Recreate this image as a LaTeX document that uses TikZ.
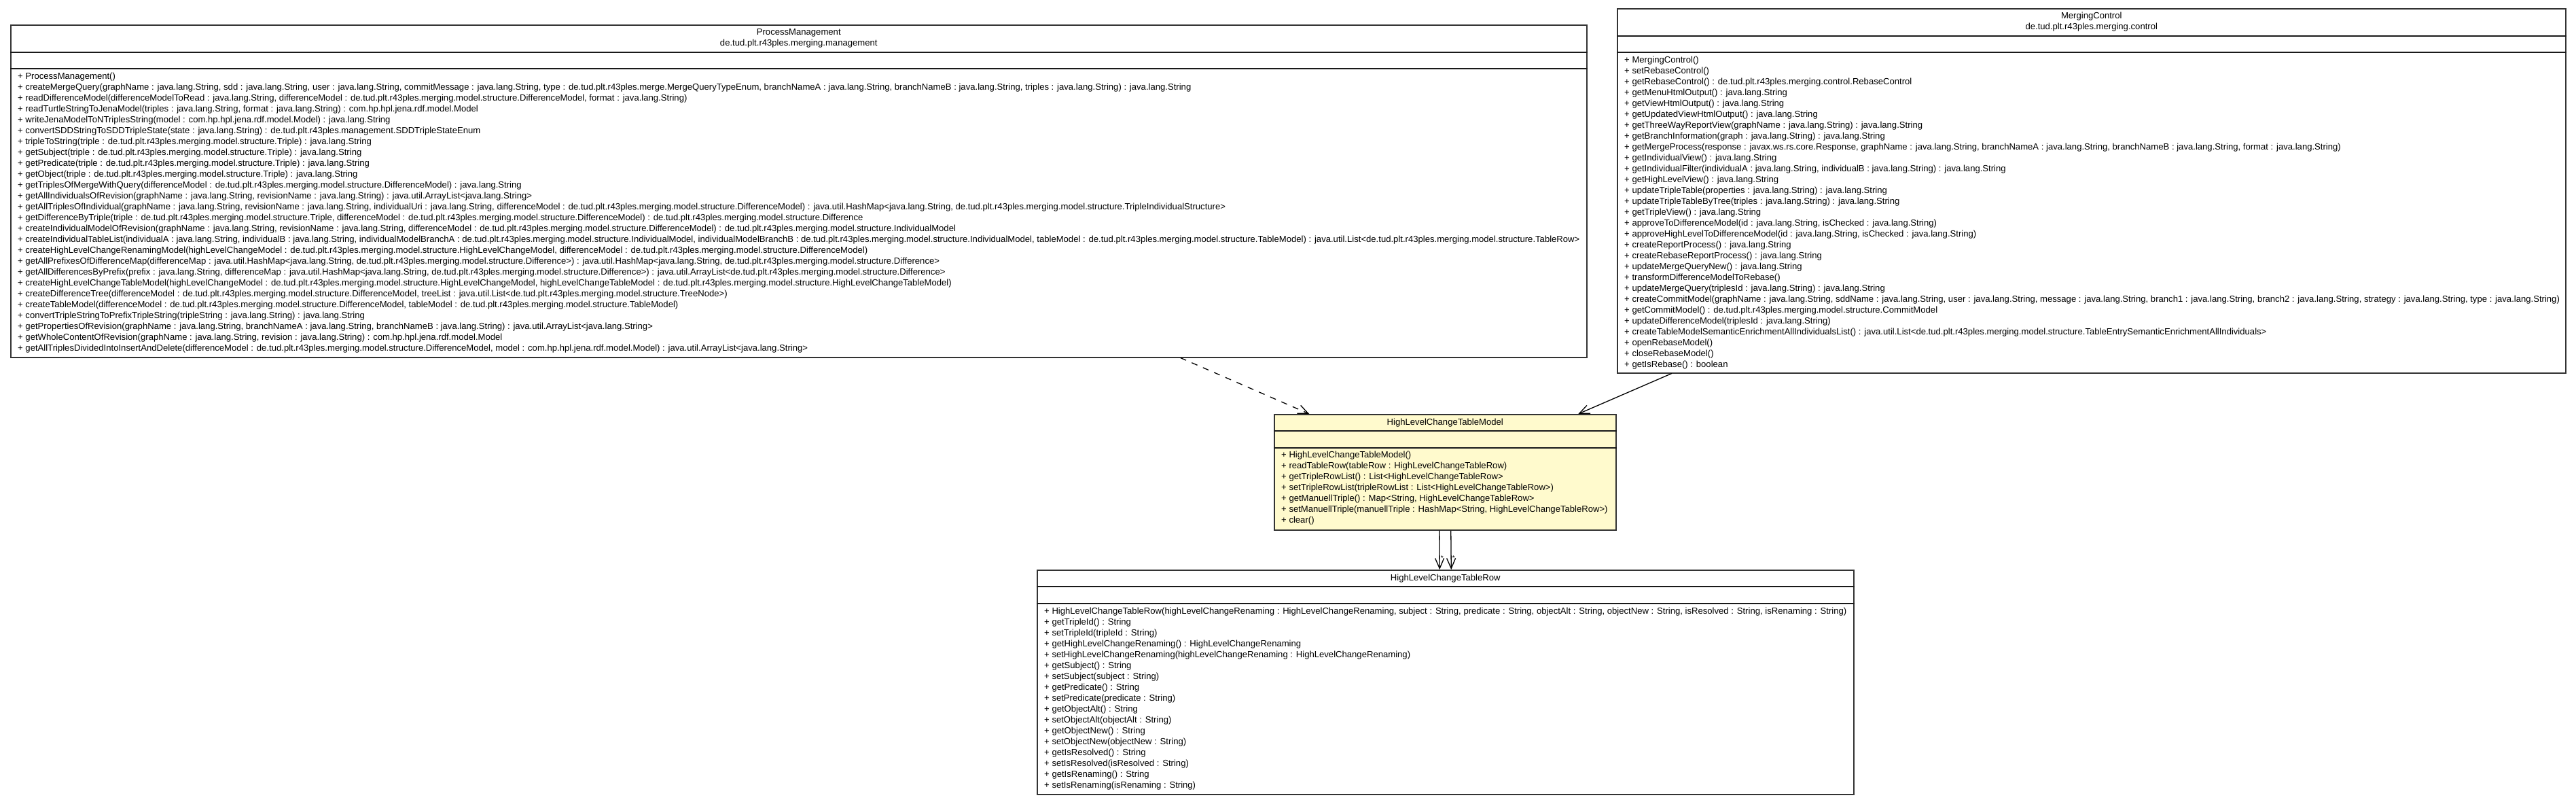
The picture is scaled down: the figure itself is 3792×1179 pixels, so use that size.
\documentclass[tikz,border=0pt]{standalone}
\usepackage{fontspec}
\setmainfont{Liberation Sans}
\usetikzlibrary{arrows.meta,calc}
\definecolor{umlyellow}{HTML}{FFFACD}
\def\umlfont{\fontsize{13.1}{16}\selectfont}

\begin{document}
\begin{tikzpicture}[x=1pt, y=-1pt, font=\umlfont,
		umlclass/.style={draw=black!80, line width=1.5pt, fill=white, anchor=north west, inner sep=0pt},
		focusclass/.style={umlclass, fill=umlyellow},
		compline/.style={draw=black!90, line width=1.5pt},
		classname/.style={anchor=base, inner sep=0pt},
		member/.style={anchor=base west, inner sep=0pt},
		depend/.style={line width=1.3pt, dash pattern=on 9pt off 9pt, -{Straight Barb[length=15pt, width=13pt]}},
		navassoc/.style={line width=1.3pt, -{Straight Barb[length=15pt, width=13pt]}},
		mult/.style={font=\fontsize{10}{10}\selectfont, inner sep=0pt}]
		\useasboundingbox (0,0) rectangle (3792,1179);
		
		%%%%% ProcessManagement %%%%%
		\node[umlclass, minimum width=2320pt, minimum height=489pt] (pm) at (15,36) {};
		\node[classname] (pm-name) at ($(pm.north)+(0,15.5)$) {ProcessManagement};
		\node[classname] (pm-pkg) at ($(pm.north)+(0,31.5)$) {de.tud.plt.r43ples.merging.management};
		\draw[compline] ($(pm.north west)+(0,41)$) -- ($(pm.north east)+(0,41)$);
		\draw[compline] ($(pm.north west)+(0,65)$) -- ($(pm.north east)+(0,65)$);
		\foreach \m [count=\i from 0] in {
			{+ ProcessManagement()},
			{+ createMergeQuery(graphName : java.lang.String, sdd : java.lang.String, user : java.lang.String, commitMessage : java.lang.String, type : de.tud.plt.r43ples.merge.MergeQueryTypeEnum, branchNameA : java.lang.String, branchNameB : java.lang.String, triples : java.lang.String) : java.lang.String},
			{+ readDifferenceModel(differenceModelToRead : java.lang.String, differenceModel : de.tud.plt.r43ples.merging.model.structure.DifferenceModel, format : java.lang.String)},
			{+ readTurtleStringToJenaModel(triples : java.lang.String, format : java.lang.String) : com.hp.hpl.jena.rdf.model.Model},
			{+ writeJenaModelToNTriplesString(model : com.hp.hpl.jena.rdf.model.Model) : java.lang.String},
			{+ convertSDDStringToSDDTripleState(state : java.lang.String) : de.tud.plt.r43ples.management.SDDTripleStateEnum},
			{+ tripleToString(triple : de.tud.plt.r43ples.merging.model.structure.Triple) : java.lang.String},
			{+ getSubject(triple : de.tud.plt.r43ples.merging.model.structure.Triple) : java.lang.String},
			{+ getPredicate(triple : de.tud.plt.r43ples.merging.model.structure.Triple) : java.lang.String},
			{+ getObject(triple : de.tud.plt.r43ples.merging.model.structure.Triple) : java.lang.String},
			{+ getTriplesOfMergeWithQuery(differenceModel : de.tud.plt.r43ples.merging.model.structure.DifferenceModel) : java.lang.String},
			{+ getAllIndividualsOfRevision(graphName : java.lang.String, revisionName : java.lang.String) : java.util.ArrayList<java.lang.String>},
			{+ getAllTriplesOfIndividual(graphName : java.lang.String, revisionName : java.lang.String, individualUri : java.lang.String, differenceModel : de.tud.plt.r43ples.merging.model.structure.DifferenceModel) : java.util.HashMap<java.lang.String, de.tud.plt.r43ples.merging.model.structure.TripleIndividualStructure>},
			{+ getDifferenceByTriple(triple : de.tud.plt.r43ples.merging.model.structure.Triple, differenceModel : de.tud.plt.r43ples.merging.model.structure.DifferenceModel) : de.tud.plt.r43ples.merging.model.structure.Difference},
			{+ createIndividualModelOfRevision(graphName : java.lang.String, revisionName : java.lang.String, differenceModel : de.tud.plt.r43ples.merging.model.structure.DifferenceModel) : de.tud.plt.r43ples.merging.model.structure.IndividualModel},
			{+ createIndividualTableList(individualA : java.lang.String, individualB : java.lang.String, individualModelBranchA : de.tud.plt.r43ples.merging.model.structure.IndividualModel, individualModelBranchB : de.tud.plt.r43ples.merging.model.structure.IndividualModel, tableModel : de.tud.plt.r43ples.merging.model.structure.TableModel) : java.util.List<de.tud.plt.r43ples.merging.model.structure.TableRow>},
			{+ createHighLevelChangeRenamingModel(highLevelChangeModel : de.tud.plt.r43ples.merging.model.structure.HighLevelChangeModel, differenceModel : de.tud.plt.r43ples.merging.model.structure.DifferenceModel)},
			{+ getAllPrefixesOfDifferenceMap(differenceMap : java.util.HashMap<java.lang.String, de.tud.plt.r43ples.merging.model.structure.Difference>) : java.util.HashMap<java.lang.String, de.tud.plt.r43ples.merging.model.structure.Difference>},
			{+ getAllDifferencesByPrefix(prefix : java.lang.String, differenceMap : java.util.HashMap<java.lang.String, de.tud.plt.r43ples.merging.model.structure.Difference>) : java.util.ArrayList<de.tud.plt.r43ples.merging.model.structure.Difference>},
			{+ createHighLevelChangeTableModel(highLevelChangeModel : de.tud.plt.r43ples.merging.model.structure.HighLevelChangeModel, highLevelChangeTableModel : de.tud.plt.r43ples.merging.model.structure.HighLevelChangeTableModel)},
			{+ createDifferenceTree(differenceModel : de.tud.plt.r43ples.merging.model.structure.DifferenceModel, treeList : java.util.List<de.tud.plt.r43ples.merging.model.structure.TreeNode>)},
			{+ createTableModel(differenceModel : de.tud.plt.r43ples.merging.model.structure.DifferenceModel, tableModel : de.tud.plt.r43ples.merging.model.structure.TableModel)},
			{+ convertTripleStringToPrefixTripleString(tripleString : java.lang.String) : java.lang.String},
			{+ getPropertiesOfRevision(graphName : java.lang.String, branchNameA : java.lang.String, branchNameB : java.lang.String) : java.util.ArrayList<java.lang.String>},
			{+ getWholeContentOfRevision(graphName : java.lang.String, revision : java.lang.String) : com.hp.hpl.jena.rdf.model.Model},
			{+ getAllTriplesDividedIntoInsertAndDelete(differenceModel : de.tud.plt.r43ples.merging.model.structure.DifferenceModel, model : com.hp.hpl.jena.rdf.model.Model) : java.util.ArrayList<java.lang.String>}}
			\node[member] (pm-\i) at ($(pm.north west)+(11,80.5+16*\i)$) {\m};
		
		%%%%% MergingControl %%%%%
		\node[umlclass, minimum width=1396pt, minimum height=536pt] (mc) at (2380,12) {};
		\node[classname] (mc-name) at ($(mc.north)+(0,15.5)$) {MergingControl};
		\node[classname] (mc-pkg) at ($(mc.north)+(0,31.5)$) {de.tud.plt.r43ples.merging.control};
		\draw[compline] ($(mc.north west)+(0,41)$) -- ($(mc.north east)+(0,41)$);
		\draw[compline] ($(mc.north west)+(0,65)$) -- ($(mc.north east)+(0,65)$);
		\foreach \m [count=\i from 0] in {
			{+ MergingControl()},
			{+ setRebaseControl()},
			{+ getRebaseControl() : de.tud.plt.r43ples.merging.control.RebaseControl},
			{+ getMenuHtmlOutput() : java.lang.String},
			{+ getViewHtmlOutput() : java.lang.String},
			{+ getUpdatedViewHtmlOutput() : java.lang.String},
			{+ getThreeWayReportView(graphName : java.lang.String) : java.lang.String},
			{+ getBranchInformation(graph : java.lang.String) : java.lang.String},
			{+ getMergeProcess(response : javax.ws.rs.core.Response, graphName : java.lang.String, branchNameA : java.lang.String, branchNameB : java.lang.String, format : java.lang.String)},
			{+ getIndividualView() : java.lang.String},
			{+ getIndividualFilter(individualA : java.lang.String, individualB : java.lang.String) : java.lang.String},
			{+ getHighLevelView() : java.lang.String},
			{+ updateTripleTable(properties : java.lang.String) : java.lang.String},
			{+ updateTripleTableByTree(triples : java.lang.String) : java.lang.String},
			{+ getTripleView() : java.lang.String},
			{+ approveToDifferenceModel(id : java.lang.String, isChecked : java.lang.String)},
			{+ approveHighLevelToDifferenceModel(id : java.lang.String, isChecked : java.lang.String)},
			{+ createReportProcess() : java.lang.String},
			{+ createRebaseReportProcess() : java.lang.String},
			{+ updateMergeQueryNew() : java.lang.String},
			{+ transformDifferenceModelToRebase()},
			{+ updateMergeQuery(triplesId : java.lang.String) : java.lang.String},
			{+ createCommitModel(graphName : java.lang.String, sddName : java.lang.String, user : java.lang.String, message : java.lang.String, branch1 : java.lang.String, branch2 : java.lang.String, strategy : java.lang.String, type : java.lang.String)},
			{+ getCommitModel() : de.tud.plt.r43ples.merging.model.structure.CommitModel},
			{+ updateDifferenceModel(triplesId : java.lang.String)},
			{+ createTableModelSemanticEnrichmentAllIndividualsList() : java.util.List<de.tud.plt.r43ples.merging.model.structure.TableEntrySemanticEnrichmentAllIndividuals>},
			{+ openRebaseModel()},
			{+ closeRebaseModel()},
			{+ getIsRebase() : boolean}}
			\node[member] (mc-\i) at ($(mc.north west)+(11,80.5+16*\i)$) {\m};
		
		%%%%% HighLevelChangeTableModel %%%%%
		\node[focusclass, minimum width=503pt, minimum height=170pt] (hlctm) at (1875,609) {};
		\node[classname] (hlctm-name) at ($(hlctm.north)+(0,16.5)$) {HighLevelChangeTableModel};
		\draw[compline] ($(hlctm.north west)+(0,25)$) -- ($(hlctm.north east)+(0,25)$);
		\draw[compline] ($(hlctm.north west)+(0,50)$) -- ($(hlctm.north east)+(0,50)$);
		\foreach \m [count=\i from 0] in {
			{+ HighLevelChangeTableModel()},
			{+ readTableRow(tableRow : HighLevelChangeTableRow)},
			{+ getTripleRowList() : List<HighLevelChangeTableRow>},
			{+ setTripleRowList(tripleRowList : List<HighLevelChangeTableRow>)},
			{+ getManuellTriple() : Map<String, HighLevelChangeTableRow>},
			{+ setManuellTriple(manuellTriple : HashMap<String, HighLevelChangeTableRow>)},
			{+ clear()}}
			\node[member] (hlctm-\i) at ($(hlctm.north west)+(11,64.5+16*\i)$) {\m};
		
		%%%%% HighLevelChangeTableRow %%%%%
		\node[umlclass, minimum width=1202pt, minimum height=330pt] (hlctr) at (1526,838) {};
		\node[classname] (hlctr-name) at ($(hlctr.north)+(0,16.5)$) {HighLevelChangeTableRow};
		\draw[compline] ($(hlctr.north west)+(0,25)$) -- ($(hlctr.north east)+(0,25)$);
		\draw[compline] ($(hlctr.north west)+(0,50)$) -- ($(hlctr.north east)+(0,50)$);
		\foreach \m [count=\i from 0] in {
			{+ HighLevelChangeTableRow(highLevelChangeRenaming : HighLevelChangeRenaming, subject : String, predicate : String, objectAlt : String, objectNew : String, isResolved : String, isRenaming : String)},
			{+ getTripleId() : String},
			{+ setTripleId(tripleId : String)},
			{+ getHighLevelChangeRenaming() : HighLevelChangeRenaming},
			{+ setHighLevelChangeRenaming(highLevelChangeRenaming : HighLevelChangeRenaming)},
			{+ getSubject() : String},
			{+ setSubject(subject : String)},
			{+ getPredicate() : String},
			{+ setPredicate(predicate : String)},
			{+ getObjectAlt() : String},
			{+ setObjectAlt(objectAlt : String)},
			{+ getObjectNew() : String},
			{+ setObjectNew(objectNew : String)},
			{+ getIsResolved() : String},
			{+ setIsResolved(isResolved : String)},
			{+ getIsRenaming() : String},
			{+ setIsRenaming(isRenaming : String)}}
			\node[member] (hlctr-\i) at ($(hlctr.north west)+(11,65+16*\i)$) {\m};
		
		%%%%% relations %%%%%
		\draw[depend] ([xshift=562pt]pm.south) -- ([xshift=-200pt]hlctm.north);
		\draw[navassoc] ([xshift=-618pt]mc.south) -- ([xshift=196pt]hlctm.north);
		\draw[navassoc] ([xshift=-8.5pt]hlctm.south) -- ([xshift=-8.5pt]hlctr.north)
			node[mult, pos=0.7, anchor=west, xshift=1pt] (mult-a) {*};
		\draw[navassoc] ([xshift=8.5pt]hlctm.south) -- ([xshift=8.5pt]hlctr.north)
			node[mult, pos=0.7, anchor=west, xshift=1pt] (mult-b) {*};
	\end{tikzpicture}
\end{document}
